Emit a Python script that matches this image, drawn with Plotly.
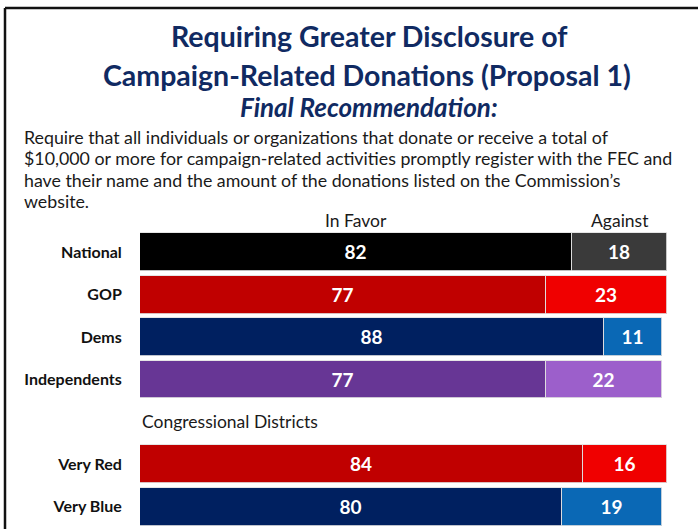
import plotly.graph_objects as go

# ---------------- data ----------------
categories = ["National", "GOP", "Dems", "Independents", "Very Red", "Very Blue"]
cat_pos = [0, 1, 2, 3, 5, 6]           # slot 4 holds the "Congressional Districts" heading
in_favor = [82, 77, 88, 77, 84, 80]
against = [18, 23, 11, 22, 16, 19]
favor_colors = ["#000000", "#C00000", "#002060", "#673695", "#C00000", "#002060"]
against_colors = ["#3A3A3A", "#F00000", "#0A68B5", "#9C5FCB", "#F00000", "#0A68B5"]

title_line1 = "Requiring Greater Disclosure of"
title_line2 = "Campaign-Related Donations (Proposal 1)"
subtitle = "Final Recommendation:"
description_lines = [
    "Require that all individuals or organizations that donate or receive a total of",
    "$10,000 or more for campaign-related activities promptly register with the FEC and",
    "have their name and the amount of the donations listed on the Commission\u2019s",
    "website.",
]
section_label = "Congressional Districts"
col_headers = ["In Favor", "Against"]

# ---------------- layout geometry ----------------
W, H = 698, 529
L, R, T, B = 140, 667, 231, 528
FONT = "Lato"
NAVY = "#102A62"
TXT = "#1A1A1A"


def px(x):
    return (x - L) / (R - L)


def py(y):
    return (B - y) / (B - T)


fig = go.Figure()
edge = dict(color="rgba(225,225,225,0.85)", width=1)
for vals, cols in ((in_favor, favor_colors), (against, against_colors)):
    fig.add_trace(go.Bar(
        y=cat_pos, x=vals, orientation="h", width=0.89,
        marker=dict(color=cols, line=edge),
        text=[str(v) for v in vals], textposition="inside",
        insidetextanchor="middle", constraintext="none",
        textfont=dict(family=FONT, size=19, color="white", weight="bold"),
        hoverinfo="skip", showlegend=False))

annotations = [
    dict(text=title_line1, x=px(369), y=py(36), xref="paper", yref="paper",
         showarrow=False, xanchor="center", yanchor="middle",
         font=dict(family=FONT, size=28.5, color=NAVY, weight="bold")),
    dict(text=title_line2, x=px(367), y=py(75), xref="paper", yref="paper",
         showarrow=False, xanchor="center", yanchor="middle",
         font=dict(family=FONT, size=28.5, color=NAVY, weight="bold")),
    dict(text="<i>" + subtitle + "</i>", x=px(369), y=py(107), xref="paper", yref="paper",
         showarrow=False, xanchor="center", yanchor="middle",
         font=dict(family=FONT, size=26, color=NAVY, weight="bold")),
    dict(text=col_headers[0], x=41, y=py(221), xref="x", yref="paper",
         showarrow=False, xanchor="center", yanchor="middle",
         font=dict(family=FONT, size=17.5, color=TXT)),
    dict(text=col_headers[1], x=91, y=py(221), xref="x", yref="paper",
         showarrow=False, xanchor="center", yanchor="middle",
         font=dict(family=FONT, size=17.5, color=TXT)),
    dict(text=section_label, x=0, y=4, xref="x", yref="y",
         showarrow=False, xanchor="left", yanchor="middle",
         font=dict(family=FONT, size=17.5, color=TXT)),
]
for line, yc in zip(description_lines, [137, 158, 180, 201]):
    annotations.append(dict(text=line, x=px(22), y=py(yc), xref="paper", yref="paper",
                            showarrow=False, xanchor="left", yanchor="middle", align="left",
                            font=dict(family=FONT, size=17.8, color=TXT)))

shapes = [
    dict(type="line", xref="paper", yref="paper", x0=px(5), x1=px(710), y0=py(8), y1=py(8),
         line=dict(color="#111111", width=2.5)),
    dict(type="line", xref="paper", yref="paper", x0=px(5), x1=px(5), y0=py(8), y1=py(540),
         line=dict(color="#111111", width=2.5)),
]

fig.update_layout(
    width=W, height=H, autosize=False,
    margin=dict(l=L, r=W - R, t=T, b=H - B, pad=0),
    paper_bgcolor="white", plot_bgcolor="white",
    barmode="stack", bargap=0,
    annotations=annotations, shapes=shapes,
    font=dict(family=FONT),
    xaxis=dict(range=[0, 100], visible=False, fixedrange=True),
    yaxis=dict(range=[6.5, -0.5], tickvals=cat_pos, ticktext=categories,
               showgrid=False, zeroline=False, showline=False,
               ticks="outside", ticklen=14, tickcolor="rgba(0,0,0,0)",
               tickfont=dict(family=FONT, size=16, color="#111111", weight="bold"),
               fixedrange=True),
)

fig.write_html("out.html", config={"displayModeBar": False},
               post_script="document.body.style.margin='0px';document.body.style.overflow='hidden';")
